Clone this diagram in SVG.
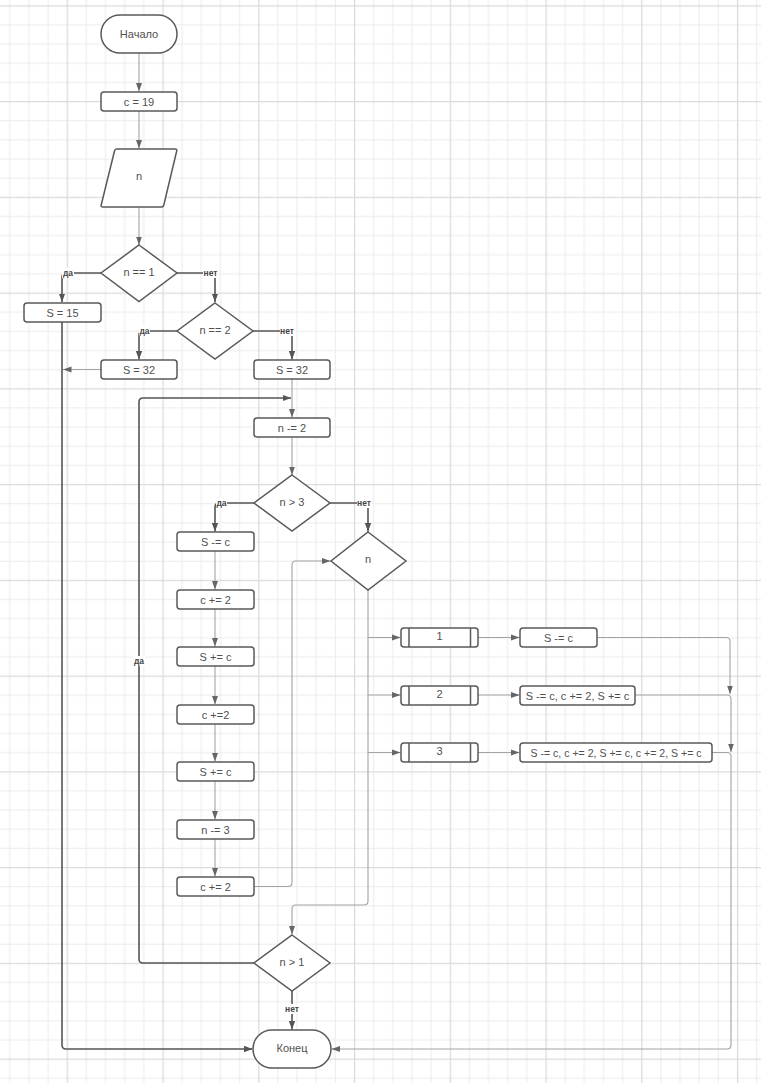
<svg xmlns="http://www.w3.org/2000/svg" width="761" height="1083" viewBox="0 0 761 1083">
  <defs>
    <!-- background grid: minor cells of 19.15, major every 5 cells -->
    <pattern id="grid" patternUnits="userSpaceOnUse" x="66.7" y="5.3" width="95.75" height="95.75">
      <rect width="95.75" height="95.75" fill="#ffffff"/>
      <g fill="#ececec">
        <rect x="19.15" y="0" width="1" height="95.75"/>
        <rect x="38.3" y="0" width="1" height="95.75"/>
        <rect x="57.45" y="0" width="1" height="95.75"/>
        <rect x="76.6" y="0" width="1" height="95.75"/>
        <rect x="0" y="19.15" width="95.75" height="1"/>
        <rect x="0" y="38.3" width="95.75" height="1"/>
        <rect x="0" y="57.45" width="95.75" height="1"/>
        <rect x="0" y="76.6" width="95.75" height="1"/>
      </g>
      <g fill="#dadada">
        <rect x="0" y="0" width="1.2" height="95.75"/>
        <rect x="0" y="0" width="95.75" height="1.2"/>
      </g>
    </pattern>
    <marker id="arrDark" markerUnits="userSpaceOnUse" markerWidth="9" markerHeight="8" refX="8.5" refY="4" orient="auto">
      <path d="M0,0.8 L8.5,4 L0,7.2 Z" fill="#555555"/>
    </marker>
    <marker id="arrLight" markerUnits="userSpaceOnUse" markerWidth="9" markerHeight="8" refX="8.5" refY="4" orient="auto">
      <path d="M0,1 L8.5,4 L0,7 Z" fill="#666666"/>
    </marker>
  </defs>
  <style>
    .shape { fill: #ffffff; stroke: #595959; stroke-width: 1.5; }
    .txt { font-family: "Liberation Sans", Arial, sans-serif; font-size: 11px; fill: #505050; text-anchor: middle; }
    .lbl { font-family: "Liberation Sans", Arial, sans-serif; font-size: 8.5px; font-weight: bold; fill: #444444; text-anchor: middle; }
    .lblbg { fill: #ffffff; }
    .dark { fill: none; stroke: #555555; stroke-width: 1.6; marker-end: url(#arrDark); }
    .light { fill: none; stroke: #a3a3a3; stroke-width: 1.1; marker-end: url(#arrLight); }
  </style>

  <rect x="0" y="0" width="761" height="1083" fill="url(#grid)"/>

  <!-- connectors -->
  <g id="connectors">
    <!-- branch lines from decisions -->
    <path class="dark" d="M101,273 H66 Q62,273 62,277 V302"/>
    <path class="dark" d="M177,273 H211 Q215,273 215,277 V302"/>
    <path class="dark" d="M177,331 H143 Q139,331 139,335 V359.5"/>
    <path class="dark" d="M253,331 H288 Q292,331 292,335 V359.5"/>
    <path class="dark" d="M62,322 V1045 Q62,1049 66,1049 H252.5"/>
    <path class="dark" d="M254,503 H219 Q215,503 215,507 V531.5"/>
    <path class="dark" d="M330,503 H364 Q368,503 368,507 V531.5"/>
    <path class="dark" d="M254,963 H143 Q139,963 139,959 V402 Q139,398 143,398 H291"/>
    <path class="dark" d="M292,991 V1029.5"/>

    <!-- sequential flow -->
    <path class="light" d="M139,53 V91.5"/>
    <path class="light" d="M139,111 V148.5"/>
    <path class="light" d="M139,207 V245"/>
    <path class="light" d="M101,369.5 H63"/>
    <path class="light" d="M292,379 V417.5"/>
    <path class="light" d="M292,437 V475"/>
    <path class="light" d="M215,551 V589.5"/>
    <path class="light" d="M215,609 V646.5"/>
    <path class="light" d="M215,666 V704.5"/>
    <path class="light" d="M215,724 V761.5"/>
    <path class="light" d="M215,781 V819.5"/>
    <path class="light" d="M215,839 V876.5"/>
    <path class="light" d="M254,886.5 H288 Q292,886.5 292,882.5 V565 Q292,561 296,561 H330.5"/>
    <path class="light" d="M368,590 V901 Q368,905 364,905 H296 Q292,905 292,909 V934.5"/>
    <path class="light" d="M368,637.5 H400.5"/>
    <path class="light" d="M368,695 H400.5"/>
    <path class="light" d="M368,752.5 H400.5"/>
    <path class="light" d="M478,637.5 H519.5"/>
    <path class="light" d="M478,695 H519.5"/>
    <path class="light" d="M478,752.5 H519.5"/>
    <path class="light" d="M597,637.5 H726 Q730,637.5 730,641.5 V694"/>
    <path class="light" d="M635,695 H727 Q731,695 731,699 V752"/>
    <path class="light" d="M712,752.5 H727 Q731,752.5 731,756.5 V1045 Q731,1049 727,1049 H331.5"/>

    <!-- branch labels -->
    <rect class="lblbg" x="62" y="268" width="12" height="10"/>
    <text class="lbl" x="68" y="276">да</text>
    <rect class="lblbg" x="203" y="268" width="15" height="10"/>
    <text class="lbl" x="210.5" y="276">нет</text>
    <rect class="lblbg" x="139" y="326" width="11" height="10"/>
    <text class="lbl" x="144.5" y="334">да</text>
    <rect class="lblbg" x="280" y="326" width="15" height="10"/>
    <text class="lbl" x="287" y="334">нет</text>
    <rect class="lblbg" x="216" y="498" width="11" height="10"/>
    <text class="lbl" x="221.5" y="506">да</text>
    <rect class="lblbg" x="357" y="498" width="15" height="10"/>
    <text class="lbl" x="364" y="506">нет</text>
    <rect class="lblbg" x="133" y="656" width="12" height="10"/>
    <text class="lbl" x="139" y="664">да</text>
    <rect class="lblbg" x="285" y="1004" width="15" height="10"/>
    <text class="lbl" x="292" y="1012">нет</text>
  </g>

  <!-- nodes -->
  <g id="start">
    <rect class="shape" x="101" y="15" width="76" height="38" rx="19"/>
    <text class="txt" x="139" y="38">Начало</text>
  </g>
  <g id="init-c">
    <rect class="shape" x="101" y="92" width="76" height="19" rx="3"/>
    <text class="txt" x="139" y="105.5">c = 19</text>
  </g>
  <g id="input-n">
    <path class="shape" d="M116.5,149 H175 Q177.3,149 176.7,151 L163.8,205 Q163.4,207 161.5,207 H103 Q100.7,207 101.2,205 L114.5,151 Q115,149 116.5,149 Z"/>
    <text class="txt" x="139" y="180">n</text>
  </g>
  <g id="dec-n-eq-1">
    <path class="shape" d="M139,245 L177,273 L139,301.5 L101,273 Z"/>
    <text class="txt" x="139" y="276">n == 1</text>
  </g>
  <g id="s-15">
    <rect class="shape" x="24" y="303" width="77" height="19" rx="3"/>
    <text class="txt" x="62.5" y="316.5">S = 15</text>
  </g>
  <g id="dec-n-eq-2">
    <path class="shape" d="M215,303 L253,331 L215,359 L177,331 Z"/>
    <text class="txt" x="215" y="334">n == 2</text>
  </g>
  <g id="s-32-a">
    <rect class="shape" x="101" y="360" width="76" height="19" rx="3"/>
    <text class="txt" x="139" y="373.5">S = 32</text>
  </g>
  <g id="s-32-b">
    <rect class="shape" x="254" y="360" width="76" height="19" rx="3"/>
    <text class="txt" x="292" y="373.5">S = 32</text>
  </g>
  <g id="n-minus-2">
    <rect class="shape" x="254" y="418" width="76" height="19" rx="3"/>
    <text class="txt" x="292" y="431.5">n -= 2</text>
  </g>
  <g id="dec-n-gt-3">
    <path class="shape" d="M292,475 L330,503 L292,531 L254,503 Z"/>
    <text class="txt" x="292" y="506">n &gt; 3</text>
  </g>
  <g id="step-1">
    <rect class="shape" x="177" y="532" width="77" height="19" rx="3"/>
    <text class="txt" x="215.5" y="545.5">S -= c</text>
  </g>
  <g id="step-2">
    <rect class="shape" x="177" y="590" width="77" height="19" rx="3"/>
    <text class="txt" x="215.5" y="603.5">c += 2</text>
  </g>
  <g id="step-3">
    <rect class="shape" x="177" y="647" width="77" height="19" rx="3"/>
    <text class="txt" x="215.5" y="660.5">S += c</text>
  </g>
  <g id="step-4">
    <rect class="shape" x="177" y="705" width="77" height="19" rx="3"/>
    <text class="txt" x="215.5" y="718.5">c +=2</text>
  </g>
  <g id="step-5">
    <rect class="shape" x="177" y="762" width="77" height="19" rx="3"/>
    <text class="txt" x="215.5" y="775.5">S += c</text>
  </g>
  <g id="step-6">
    <rect class="shape" x="177" y="820" width="77" height="19" rx="3"/>
    <text class="txt" x="215.5" y="833.5">n -= 3</text>
  </g>
  <g id="step-7">
    <rect class="shape" x="177" y="877" width="77" height="19" rx="3"/>
    <text class="txt" x="215.5" y="890.5">c += 2</text>
  </g>
  <g id="switch-n">
    <path class="shape" d="M368,532 L406,561 L368,590 L331,561 Z"/>
    <text class="txt" x="368" y="563">n</text>
  </g>
  <g id="case-1">
    <rect class="shape" x="401" y="628" width="77" height="19" rx="3"/>
    <path class="shape" d="M409,628 V647 M470.5,628 V647"/>
    <text class="txt" x="439.5" y="640">1</text>
  </g>
  <g id="case-2">
    <rect class="shape" x="401" y="686" width="77" height="19" rx="3"/>
    <path class="shape" d="M409,686 V705 M470.5,686 V705"/>
    <text class="txt" x="439.5" y="698">2</text>
  </g>
  <g id="case-3">
    <rect class="shape" x="401" y="743" width="77" height="19" rx="3"/>
    <path class="shape" d="M409,743 V762 M470.5,743 V762"/>
    <text class="txt" x="439.5" y="755">3</text>
  </g>
  <g id="action-1">
    <rect class="shape" x="520" y="628" width="77" height="19" rx="3"/>
    <text class="txt" x="558.5" y="641.5">S -= c</text>
  </g>
  <g id="action-2">
    <rect class="shape" x="520" y="686" width="115" height="19" rx="3"/>
    <text class="txt" x="577.5" y="699.5">S -= c, c += 2, S += c</text>
  </g>
  <g id="action-3">
    <rect class="shape" x="520" y="743" width="192" height="19" rx="3"/>
    <text class="txt" x="616" y="756.5" textLength="171" lengthAdjust="spacingAndGlyphs">S -= c, c += 2, S += c, c += 2, S += c</text>
  </g>
  <g id="dec-n-gt-1">
    <path class="shape" d="M292,935 L330,963 L292,991 L254,963 Z"/>
    <text class="txt" x="292" y="966">n &gt; 1</text>
  </g>
  <g id="end">
    <rect class="shape" x="253" y="1030" width="78" height="38" rx="19"/>
    <text class="txt" x="292" y="1052">Конец</text>
  </g>
</svg>
